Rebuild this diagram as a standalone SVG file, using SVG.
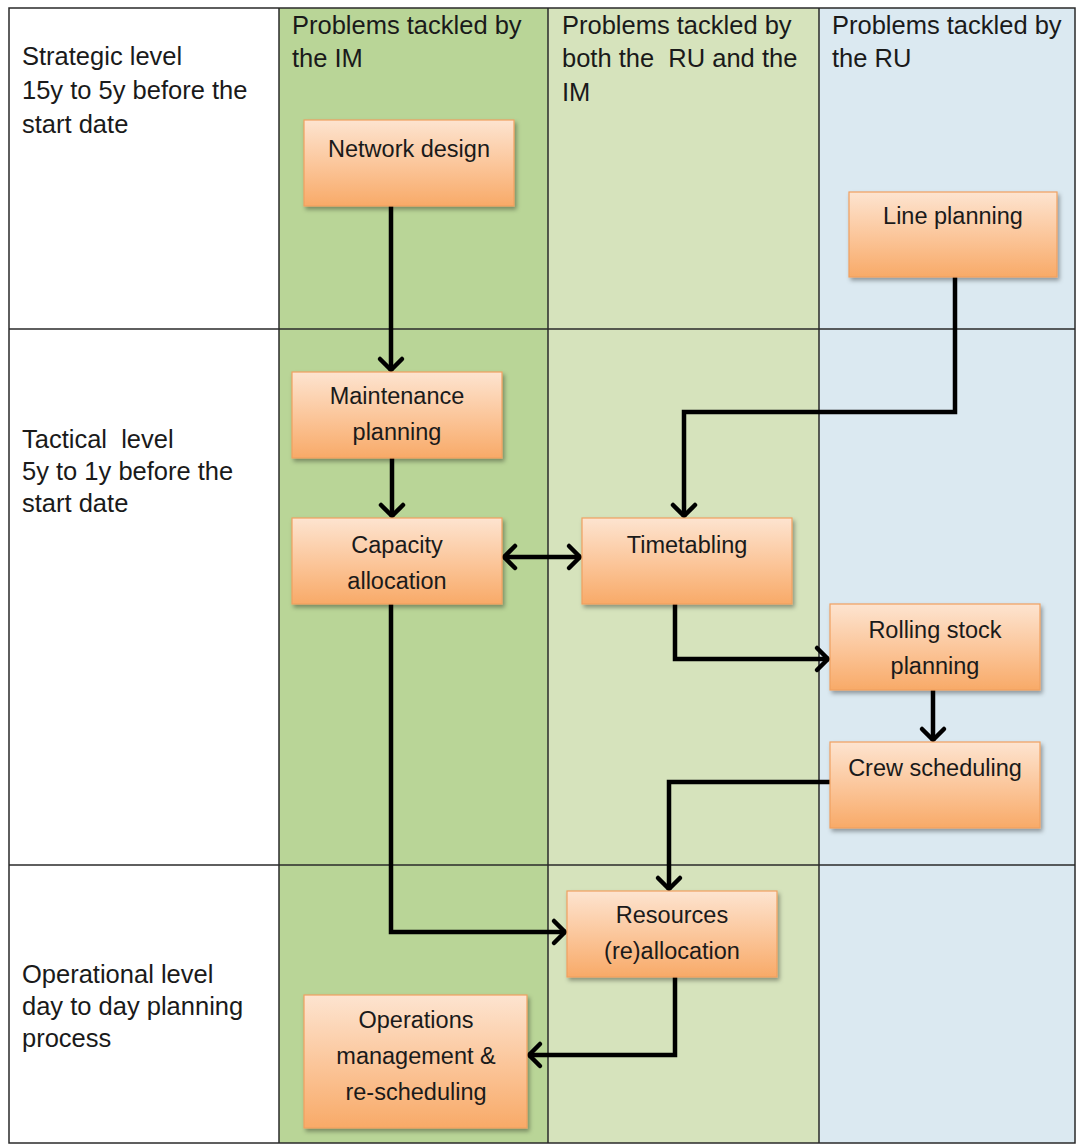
<svg xmlns="http://www.w3.org/2000/svg" width="1076" height="1144" viewBox="0 0 1076 1144">
<defs>
<linearGradient id="boxg" x1="0" y1="0" x2="0" y2="1">
<stop offset="0" stop-color="#fde4d0"/>
<stop offset="0.55" stop-color="#fbc497"/>
<stop offset="1" stop-color="#f8aa68"/>
</linearGradient>
<filter id="sh" x="-10%" y="-10%" width="125%" height="130%">
<feDropShadow dx="2" dy="3" stdDeviation="2" flood-color="#000" flood-opacity="0.35"/>
</filter>
<marker id="arr" markerUnits="userSpaceOnUse" markerWidth="30" markerHeight="30" viewBox="-16 -15 19 30" refX="0" refY="0" orient="auto-start-reverse">
<path d="M -12 -11 L -1 0 L -12 11" fill="none" stroke="#000" stroke-width="4.5" stroke-linecap="round" stroke-linejoin="round"/>
</marker>
</defs>
<style>
.lbl{font-family:"Liberation Sans",Arial,sans-serif;font-size:25.5px;fill:#1a1a1a}
.bt{font-family:"Liberation Sans",Arial,sans-serif;font-size:23.5px;fill:#1a1a1a;text-anchor:middle}
.box{fill:url(#boxg);stroke:#f0a060;stroke-width:1.2;filter:url(#sh)}
.grid{stroke:#2a2a2a;stroke-width:1.5;fill:none}
.con{fill:none;stroke:#000;stroke-width:4.5;stroke-linejoin:miter}
</style>
<rect x="0" y="0" width="1076" height="1144" fill="#fff"/>
<g id="table">
<rect x="279" y="8" width="269" height="1135" fill="#b9d597"/>
<rect x="548" y="8" width="271" height="1135" fill="#d6e3bc"/>
<rect x="819" y="8" width="256" height="1135" fill="#dbe9f1"/>
<rect class="grid" x="9" y="8" width="1066" height="1135"/>
<line class="grid" x1="279" y1="8" x2="279" y2="1143"/>
<line class="grid" x1="548" y1="8" x2="548" y2="1143"/>
<line class="grid" x1="819" y1="8" x2="819" y2="1143"/>
<line class="grid" x1="9" y1="329" x2="1075" y2="329"/>
<line class="grid" x1="9" y1="865" x2="1075" y2="865"/>
<text class="lbl" x="22" y="65">Strategic level</text>
<text class="lbl" x="22" y="99">15y to 5y before the</text>
<text class="lbl" x="22" y="133">start date</text>
<text class="lbl" x="22" y="448" xml:space="preserve">Tactical  level</text>
<text class="lbl" x="22" y="480">5y to 1y before the</text>
<text class="lbl" x="22" y="512">start date</text>
<text class="lbl" x="22" y="983">Operational level</text>
<text class="lbl" x="22" y="1015">day to day planning</text>
<text class="lbl" x="22" y="1047">process</text>
<text class="lbl" x="292" y="34">Problems tackled by</text>
<text class="lbl" x="292" y="67">the IM</text>
<text class="lbl" x="562" y="34">Problems tackled by</text>
<text class="lbl" x="562" y="67" xml:space="preserve">both the  RU and the</text>
<text class="lbl" x="562" y="101">IM</text>
<text class="lbl" x="832" y="34">Problems tackled by</text>
<text class="lbl" x="832" y="67">the RU</text>
</g>
<g id="connectors">
<path class="con" d="M391 206 V371" marker-end="url(#arr)"/>
<path class="con" d="M955 277 V412 H684 V517" marker-end="url(#arr)"/>
<path class="con" d="M392 458 V517" marker-end="url(#arr)"/>
<path class="con" d="M503 557 H581" marker-start="url(#arr)" marker-end="url(#arr)"/>
<path class="con" d="M675 604 V659 H829" marker-end="url(#arr)"/>
<path class="con" d="M933 690 V741" marker-end="url(#arr)"/>
<path class="con" d="M830 782 H669 V890" marker-end="url(#arr)"/>
<path class="con" d="M391 604 V932 H566" marker-end="url(#arr)"/>
<path class="con" d="M675 977 V1055 H528" marker-end="url(#arr)"/>
</g>
<g id="n-network">
<rect class="box" x="304" y="120" width="210" height="86"/>
<text class="bt" x="409" y="157">Network design</text>
</g>
<g id="n-line">
<rect class="box" x="849" y="192" width="208" height="85"/>
<text class="bt" x="953" y="224">Line planning</text>
</g>
<g id="n-maint">
<rect class="box" x="292" y="372" width="210" height="86"/>
<text class="bt" x="397" y="404">Maintenance</text>
<text class="bt" x="397" y="440">planning</text>
</g>
<g id="n-capacity">
<rect class="box" x="292" y="518" width="210" height="86"/>
<text class="bt" x="397" y="553">Capacity</text>
<text class="bt" x="397" y="589">allocation</text>
</g>
<g id="n-timetabling">
<rect class="box" x="582" y="518" width="210" height="86"/>
<text class="bt" x="687" y="553">Timetabling</text>
</g>
<g id="n-rolling">
<rect class="box" x="830" y="604" width="210" height="86"/>
<text class="bt" x="935" y="638">Rolling stock</text>
<text class="bt" x="935" y="674">planning</text>
</g>
<g id="n-crew">
<rect class="box" x="830" y="742" width="210" height="86"/>
<text class="bt" x="935" y="776">Crew scheduling</text>
</g>
<g id="n-resources">
<rect class="box" x="567" y="891" width="210" height="86"/>
<text class="bt" x="672" y="923">Resources</text>
<text class="bt" x="672" y="959">(re)allocation</text>
</g>
<g id="n-operations">
<rect class="box" x="304" y="995" width="223" height="133"/>
<text class="bt" x="416" y="1028">Operations</text>
<text class="bt" x="416" y="1064">management &amp;</text>
<text class="bt" x="416" y="1100">re-scheduling</text>
</g>
</svg>
